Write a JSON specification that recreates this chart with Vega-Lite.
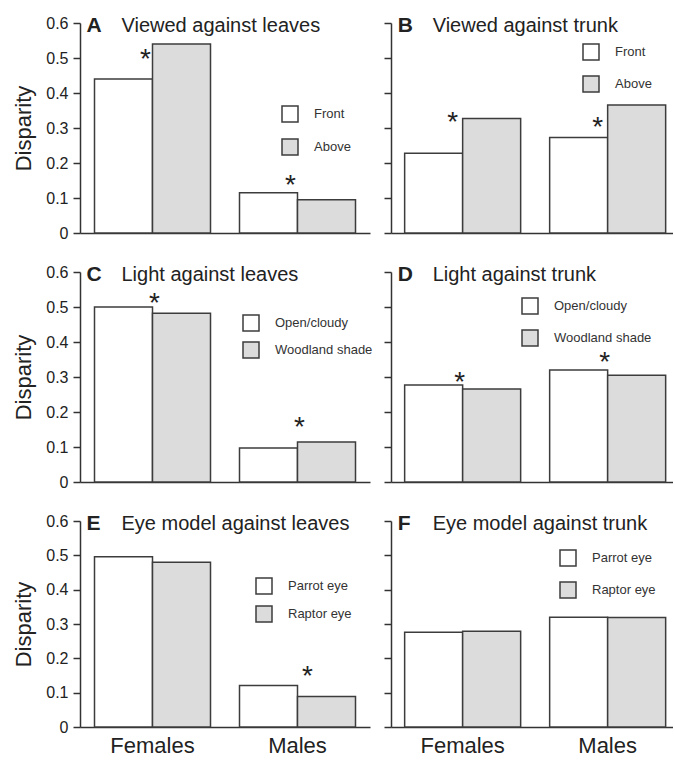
{
  "$schema": "https://vega.github.io/schema/vega-lite/v6.json",
  "padding": {"left": 12, "top": 15, "right": 0, "bottom": 5},
  "background": "white",
  "config": {
    "font": "Liberation Sans",
    "view": {"stroke": null},
    "axis": {"domainColor": "#333", "domainWidth": 1.5, "tickColor": "#333", "tickWidth": 1.5, "labelColor": "#222", "titleColor": "#222", "grid": false, "labelFont": "Liberation Sans", "titleFont": "Liberation Sans", "labelOverlap": false, "labelSeparation": 0},
    "legend": {"orient": "none", "title": null, "symbolType": "square", "symbolSize": 256, "symbolStrokeColor": "#3c3c3c", "symbolStrokeWidth": 1.5, "labelFontSize": 13, "labelColor": "#333", "labelOffset": 15, "padding": 0, "labelFont": "Liberation Sans"},
    "text": {"color": "#222", "font": "Liberation Sans"}
  },
  "bounds": "flush",
  "columns": 2,
  "spacing": {"row": 39, "column": 21},
  "resolve": {"scale": {"x": "independent", "y": "independent", "color": "independent", "xOffset": "independent"}, "legend": {"color": "independent"}},
  "concat": [
    {
      "width": 290, "height": 210,
      "layer": [
        {
          "data": {"values": [
            {"group": "Females", "cond": "Front", "value": 0.44},
            {"group": "Females", "cond": "Above", "value": 0.54},
            {"group": "Males", "cond": "Front", "value": 0.115},
            {"group": "Males", "cond": "Above", "value": 0.095}
          ]},
          "mark": {"type": "bar", "stroke": "#3c3c3c", "strokeWidth": 1.5},
          "encoding": {
            "x": {"field": "group", "type": "nominal", "scale": {"paddingInner": 0.2, "paddingOuter": 0.1}, "axis": {"title": null, "labels": false, "ticks": false}},
            "xOffset": {"field": "cond", "type": "nominal", "scale": {"domain": ["Front", "Above"], "paddingInner": 0, "paddingOuter": 0}},
            "y": {"field": "value", "type": "quantitative", "scale": {"domain": [0, 0.6], "nice": false}, "axis": {"tickCount": 6, "labelOverlap": false, "labelExpr": "datum.value == 0 ? '0' : format(datum.value, '.1f')", "title": "Disparity", "titleFontSize": 22, "titleFontWeight": "normal", "labelFontSize": 16, "tickSize": 7, "labelPadding": 5, "titlePadding": 10}},
            "color": {"field": "cond", "type": "nominal", "scale": {"domain": ["Front", "Above"], "range": ["#ffffff", "#dcdcdc"]}, "legend": {"legendX": 201, "legendY": 82, "rowPadding": 11}}
          }
        },
        {
          "data": {"values": [{"group": "Females", "y": 0.508}, {"group": "Males", "y": 0.15}]},
          "mark": {"type": "text", "text": "*", "fontSize": 28, "dy": 5, "dx": -7},
          "encoding": {"x": {"field": "group", "type": "nominal"}, "y": {"field": "y", "type": "quantitative"}}
        },
        {
          "data": {"values": [{"letter": "A", "title": "Viewed against leaves"}]},
          "mark": {"type": "text", "fontSize": 21, "fontWeight": "bold", "align": "left", "baseline": "alphabetic", "dx": -8, "dy": 9},
          "encoding": {"x": {"datum": "Females", "bandPosition": 0}, "y": {"datum": 0.6}, "text": {"field": "letter"}}
        },
        {
          "data": {"values": [{"letter": "A", "title": "Viewed against leaves"}]},
          "mark": {"type": "text", "fontSize": 20, "align": "left", "baseline": "alphabetic", "dx": 27, "dy": 9},
          "encoding": {"x": {"datum": "Females", "bandPosition": 0}, "y": {"datum": 0.6}, "text": {"field": "title"}}
        }
      ]
    },
    {
      "width": 282, "height": 210,
      "layer": [
        {
          "data": {"values": [
            {"group": "Females", "cond": "Front", "value": 0.228},
            {"group": "Females", "cond": "Above", "value": 0.327},
            {"group": "Males", "cond": "Front", "value": 0.273},
            {"group": "Males", "cond": "Above", "value": 0.366}
          ]},
          "mark": {"type": "bar", "stroke": "#3c3c3c", "strokeWidth": 1.5},
          "encoding": {
            "x": {"field": "group", "type": "nominal", "scale": {"paddingInner": 0.2, "paddingOuter": 0.0724, "align": 0.65}, "axis": {"title": null, "labels": false, "ticks": false}},
            "xOffset": {"field": "cond", "type": "nominal", "scale": {"domain": ["Front", "Above"], "paddingInner": 0, "paddingOuter": 0}},
            "y": {"field": "value", "type": "quantitative", "scale": {"domain": [0, 0.6], "nice": false}, "axis": {"tickCount": 6, "labels": false, "title": null, "tickSize": 7}},
            "color": {"field": "cond", "type": "nominal", "scale": {"domain": ["Front", "Above"], "range": ["#ffffff", "#dcdcdc"]}, "legend": {"legendX": 191, "legendY": 20, "rowPadding": 10}}
          }
        },
        {
          "data": {"values": [{"group": "Females", "y": 0.33}, {"group": "Males", "y": 0.313}]},
          "mark": {"type": "text", "text": "*", "fontSize": 28, "dy": 5, "dx": -10},
          "encoding": {"x": {"field": "group", "type": "nominal"}, "y": {"field": "y", "type": "quantitative"}}
        },
        {
          "data": {"values": [{"letter": "B", "title": "Viewed against trunk"}]},
          "mark": {"type": "text", "fontSize": 21, "fontWeight": "bold", "align": "left", "baseline": "alphabetic", "dx": -7, "dy": 9},
          "encoding": {"x": {"datum": "Females", "bandPosition": 0}, "y": {"datum": 0.6}, "text": {"field": "letter"}}
        },
        {
          "data": {"values": [{"letter": "B", "title": "Viewed against trunk"}]},
          "mark": {"type": "text", "fontSize": 20, "align": "left", "baseline": "alphabetic", "dx": 28, "dy": 9},
          "encoding": {"x": {"datum": "Females", "bandPosition": 0}, "y": {"datum": 0.6}, "text": {"field": "title"}}
        }
      ]
    },
    {
      "width": 290, "height": 210,
      "layer": [
        {
          "data": {"values": [
            {"group": "Females", "cond": "Open/cloudy", "value": 0.5},
            {"group": "Females", "cond": "Woodland shade", "value": 0.482},
            {"group": "Males", "cond": "Open/cloudy", "value": 0.097},
            {"group": "Males", "cond": "Woodland shade", "value": 0.114}
          ]},
          "mark": {"type": "bar", "stroke": "#3c3c3c", "strokeWidth": 1.5},
          "encoding": {
            "x": {"field": "group", "type": "nominal", "scale": {"paddingInner": 0.2, "paddingOuter": 0.1}, "axis": {"title": null, "labels": false, "ticks": false}},
            "xOffset": {"field": "cond", "type": "nominal", "scale": {"domain": ["Open/cloudy", "Woodland shade"], "paddingInner": 0, "paddingOuter": 0}},
            "y": {"field": "value", "type": "quantitative", "scale": {"domain": [0, 0.6], "nice": false}, "axis": {"tickCount": 6, "labelOverlap": false, "labelExpr": "datum.value == 0 ? '0' : format(datum.value, '.1f')", "title": "Disparity", "titleFontSize": 22, "titleFontWeight": "normal", "labelFontSize": 16, "tickSize": 7, "labelPadding": 5, "titlePadding": 10}},
            "color": {"field": "cond", "type": "nominal", "scale": {"domain": ["Open/cloudy", "Woodland shade"], "range": ["#ffffff", "#dcdcdc"]}, "legend": {"legendX": 162, "legendY": 42, "rowPadding": 5}}
          }
        },
        {
          "data": {"values": [{"group": "Females", "y": 0.523}, {"group": "Males", "y": 0.169}]},
          "mark": {"type": "text", "text": "*", "fontSize": 28, "dy": 5, "dx": 2},
          "encoding": {"x": {"field": "group", "type": "nominal"}, "y": {"field": "y", "type": "quantitative"}}
        },
        {
          "data": {"values": [{"letter": "C", "title": "Light against leaves"}]},
          "mark": {"type": "text", "fontSize": 21, "fontWeight": "bold", "align": "left", "baseline": "alphabetic", "dx": -8, "dy": 9},
          "encoding": {"x": {"datum": "Females", "bandPosition": 0}, "y": {"datum": 0.6}, "text": {"field": "letter"}}
        },
        {
          "data": {"values": [{"letter": "C", "title": "Light against leaves"}]},
          "mark": {"type": "text", "fontSize": 20, "align": "left", "baseline": "alphabetic", "dx": 27, "dy": 9},
          "encoding": {"x": {"datum": "Females", "bandPosition": 0}, "y": {"datum": 0.6}, "text": {"field": "title"}}
        }
      ]
    },
    {
      "width": 282, "height": 210,
      "layer": [
        {
          "data": {"values": [
            {"group": "Females", "cond": "Open/cloudy", "value": 0.277},
            {"group": "Females", "cond": "Woodland shade", "value": 0.266},
            {"group": "Males", "cond": "Open/cloudy", "value": 0.32},
            {"group": "Males", "cond": "Woodland shade", "value": 0.305}
          ]},
          "mark": {"type": "bar", "stroke": "#3c3c3c", "strokeWidth": 1.5},
          "encoding": {
            "x": {"field": "group", "type": "nominal", "scale": {"paddingInner": 0.2, "paddingOuter": 0.0724, "align": 0.65}, "axis": {"title": null, "labels": false, "ticks": false}},
            "xOffset": {"field": "cond", "type": "nominal", "scale": {"domain": ["Open/cloudy", "Woodland shade"], "paddingInner": 0, "paddingOuter": 0}},
            "y": {"field": "value", "type": "quantitative", "scale": {"domain": [0, 0.6], "nice": false}, "axis": {"tickCount": 6, "labels": false, "title": null, "tickSize": 7}},
            "color": {"field": "cond", "type": "nominal", "scale": {"domain": ["Open/cloudy", "Woodland shade"], "range": ["#ffffff", "#dcdcdc"]}, "legend": {"legendX": 130, "legendY": 25, "rowPadding": 10}}
          }
        },
        {
          "data": {"values": [{"group": "Females", "y": 0.297}, {"group": "Males", "y": 0.354}]},
          "mark": {"type": "text", "text": "*", "fontSize": 28, "dy": 5, "dx": -3},
          "encoding": {"x": {"field": "group", "type": "nominal"}, "y": {"field": "y", "type": "quantitative"}}
        },
        {
          "data": {"values": [{"letter": "D", "title": "Light against trunk"}]},
          "mark": {"type": "text", "fontSize": 21, "fontWeight": "bold", "align": "left", "baseline": "alphabetic", "dx": -7, "dy": 9},
          "encoding": {"x": {"datum": "Females", "bandPosition": 0}, "y": {"datum": 0.6}, "text": {"field": "letter"}}
        },
        {
          "data": {"values": [{"letter": "D", "title": "Light against trunk"}]},
          "mark": {"type": "text", "fontSize": 20, "align": "left", "baseline": "alphabetic", "dx": 28, "dy": 9},
          "encoding": {"x": {"datum": "Females", "bandPosition": 0}, "y": {"datum": 0.6}, "text": {"field": "title"}}
        }
      ]
    },
    {
      "width": 290, "height": 206,
      "layer": [
        {
          "data": {"values": [
            {"group": "Females", "cond": "Parrot eye", "value": 0.496},
            {"group": "Females", "cond": "Raptor eye", "value": 0.48},
            {"group": "Males", "cond": "Parrot eye", "value": 0.121},
            {"group": "Males", "cond": "Raptor eye", "value": 0.089}
          ]},
          "mark": {"type": "bar", "stroke": "#3c3c3c", "strokeWidth": 1.5},
          "encoding": {
            "x": {"field": "group", "type": "nominal", "scale": {"paddingInner": 0.2, "paddingOuter": 0.1}, "axis": {"title": null, "ticks": false, "labelAngle": 0, "labelFontSize": 22, "labelPadding": 8}},
            "xOffset": {"field": "cond", "type": "nominal", "scale": {"domain": ["Parrot eye", "Raptor eye"], "paddingInner": 0, "paddingOuter": 0}},
            "y": {"field": "value", "type": "quantitative", "scale": {"domain": [0, 0.6], "nice": false}, "axis": {"tickCount": 6, "labelOverlap": false, "labelExpr": "datum.value == 0 ? '0' : format(datum.value, '.1f')", "title": "Disparity", "titleFontSize": 22, "titleFontWeight": "normal", "labelFontSize": 16, "tickSize": 7, "labelPadding": 5, "titlePadding": 10}},
            "color": {"field": "cond", "type": "nominal", "scale": {"domain": ["Parrot eye", "Raptor eye"], "range": ["#ffffff", "#dcdcdc"]}, "legend": {"legendX": 175, "legendY": 56, "rowPadding": 6}}
          }
        },
        {
          "data": {"values": [{"group": "Males", "y": 0.16}]},
          "mark": {"type": "text", "text": "*", "fontSize": 28, "dy": 5, "dx": 10},
          "encoding": {"x": {"field": "group", "type": "nominal"}, "y": {"field": "y", "type": "quantitative"}}
        },
        {
          "data": {"values": [{"letter": "E", "title": "Eye model against leaves"}]},
          "mark": {"type": "text", "fontSize": 21, "fontWeight": "bold", "align": "left", "baseline": "alphabetic", "dx": -8, "dy": 9},
          "encoding": {"x": {"datum": "Females", "bandPosition": 0}, "y": {"datum": 0.6}, "text": {"field": "letter"}}
        },
        {
          "data": {"values": [{"letter": "E", "title": "Eye model against leaves"}]},
          "mark": {"type": "text", "fontSize": 20, "align": "left", "baseline": "alphabetic", "dx": 27, "dy": 9},
          "encoding": {"x": {"datum": "Females", "bandPosition": 0}, "y": {"datum": 0.6}, "text": {"field": "title"}}
        }
      ]
    },
    {
      "width": 282, "height": 206,
      "layer": [
        {
          "data": {"values": [
            {"group": "Females", "cond": "Parrot eye", "value": 0.276},
            {"group": "Females", "cond": "Raptor eye", "value": 0.279},
            {"group": "Males", "cond": "Parrot eye", "value": 0.32},
            {"group": "Males", "cond": "Raptor eye", "value": 0.319}
          ]},
          "mark": {"type": "bar", "stroke": "#3c3c3c", "strokeWidth": 1.5},
          "encoding": {
            "x": {"field": "group", "type": "nominal", "scale": {"paddingInner": 0.2, "paddingOuter": 0.0724, "align": 0.65}, "axis": {"title": null, "ticks": false, "labelAngle": 0, "labelFontSize": 22, "labelPadding": 8}},
            "xOffset": {"field": "cond", "type": "nominal", "scale": {"domain": ["Parrot eye", "Raptor eye"], "paddingInner": 0, "paddingOuter": 0}},
            "y": {"field": "value", "type": "quantitative", "scale": {"domain": [0, 0.6], "nice": false}, "axis": {"tickCount": 6, "labels": false, "title": null, "tickSize": 7}},
            "color": {"field": "cond", "type": "nominal", "scale": {"domain": ["Parrot eye", "Raptor eye"], "range": ["#ffffff", "#dcdcdc"]}, "legend": {"legendX": 168, "legendY": 28, "rowPadding": 10}}
          }
        },
        {
          "data": {"values": [{"letter": "F", "title": "Eye model against trunk"}]},
          "mark": {"type": "text", "fontSize": 21, "fontWeight": "bold", "align": "left", "baseline": "alphabetic", "dx": -7, "dy": 9},
          "encoding": {"x": {"datum": "Females", "bandPosition": 0}, "y": {"datum": 0.6}, "text": {"field": "letter"}}
        },
        {
          "data": {"values": [{"letter": "F", "title": "Eye model against trunk"}]},
          "mark": {"type": "text", "fontSize": 20, "align": "left", "baseline": "alphabetic", "dx": 28, "dy": 9},
          "encoding": {"x": {"datum": "Females", "bandPosition": 0}, "y": {"datum": 0.6}, "text": {"field": "title"}}
        }
      ]
    }
  ]
}
